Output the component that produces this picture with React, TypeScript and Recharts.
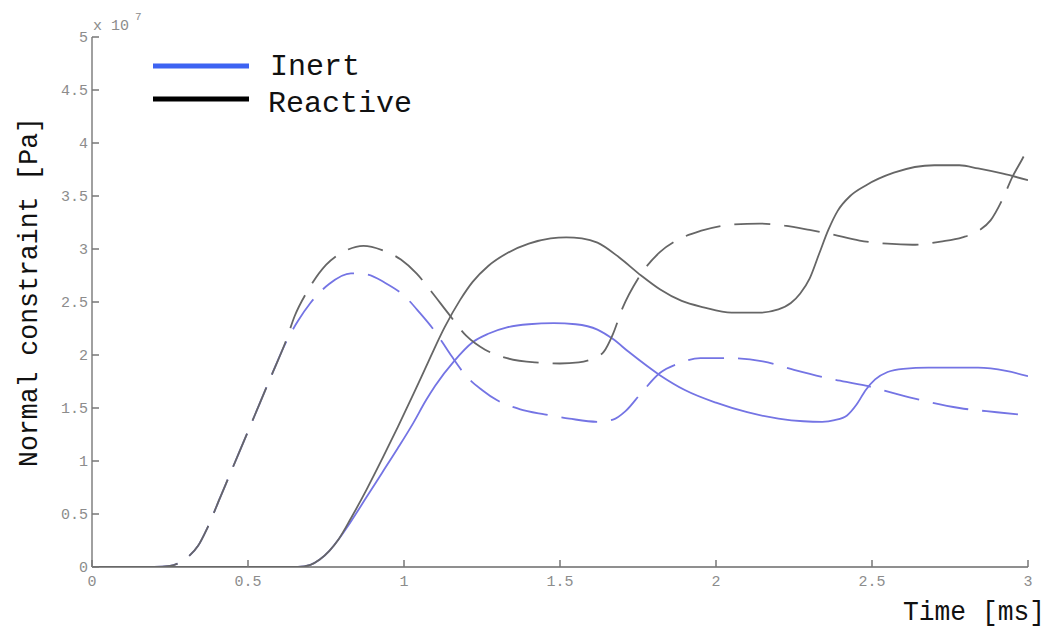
import React from 'react';
import { LineChart, Line, XAxis, YAxis, Legend } from 'recharts';

const xTicks = [0, 0.5, 1, 1.5, 2, 2.5, 3];
const yTicks = [0, 0.5, 1, 1.5, 2, 2.5, 3, 3.5, 4, 4.5, 5];

const inertDashed = [
  { t: 0, v: 0 }, { t: 0.2, v: 0 }, { t: 0.25, v: 0.01 }, { t: 0.28, v: 0.04 }, { t: 0.31, v: 0.1 },
  { t: 0.34, v: 0.2 }, { t: 0.37, v: 0.37 }, { t: 0.41, v: 0.65 }, { t: 0.45, v: 0.93 }, { t: 0.5, v: 1.28 },
  { t: 0.54, v: 1.56 }, { t: 0.58, v: 1.84 }, { t: 0.62, v: 2.11 }, { t: 0.66, v: 2.32 }, { t: 0.7, v: 2.49 },
  { t: 0.76, v: 2.67 }, { t: 0.83, v: 2.77 }, { t: 0.88, v: 2.76 }, { t: 0.94, v: 2.68 }, { t: 1.0, v: 2.56 },
  { t: 1.05, v: 2.4 }, { t: 1.1, v: 2.22 }, { t: 1.15, v: 2.0 }, { t: 1.2, v: 1.8 }, { t: 1.25, v: 1.67 },
  { t: 1.3, v: 1.57 }, { t: 1.37, v: 1.49 }, { t: 1.45, v: 1.44 }, { t: 1.53, v: 1.4 }, { t: 1.62, v: 1.37 },
  { t: 1.67, v: 1.39 }, { t: 1.71, v: 1.47 }, { t: 1.76, v: 1.64 }, { t: 1.82, v: 1.83 }, { t: 1.88, v: 1.92 },
  { t: 1.95, v: 1.97 }, { t: 2.05, v: 1.97 }, { t: 2.15, v: 1.94 }, { t: 2.25, v: 1.86 }, { t: 2.36, v: 1.78 },
  { t: 2.48, v: 1.71 }, { t: 2.62, v: 1.6 }, { t: 2.78, v: 1.5 }, { t: 2.9, v: 1.46 }, { t: 3, v: 1.43 },
];

const reactiveDashed = [
  { t: 0, v: 0 }, { t: 0.2, v: 0 }, { t: 0.25, v: 0.01 }, { t: 0.28, v: 0.04 }, { t: 0.31, v: 0.1 },
  { t: 0.34, v: 0.2 }, { t: 0.37, v: 0.37 }, { t: 0.41, v: 0.65 }, { t: 0.45, v: 0.93 }, { t: 0.5, v: 1.28 },
  { t: 0.54, v: 1.56 }, { t: 0.58, v: 1.84 }, { t: 0.62, v: 2.12 }, { t: 0.65, v: 2.37 }, { t: 0.69, v: 2.6 },
  { t: 0.75, v: 2.85 }, { t: 0.81, v: 2.98 }, { t: 0.87, v: 3.03 }, { t: 0.93, v: 2.99 }, { t: 0.99, v: 2.9 },
  { t: 1.04, v: 2.77 }, { t: 1.09, v: 2.59 }, { t: 1.14, v: 2.4 }, { t: 1.2, v: 2.18 }, { t: 1.26, v: 2.05 },
  { t: 1.33, v: 1.97 }, { t: 1.42, v: 1.93 }, { t: 1.5, v: 1.92 }, { t: 1.56, v: 1.93 }, { t: 1.6, v: 1.96 },
  { t: 1.64, v: 2.03 }, { t: 1.67, v: 2.2 }, { t: 1.7, v: 2.44 }, { t: 1.75, v: 2.72 }, { t: 1.82, v: 2.97 },
  { t: 1.88, v: 3.09 }, { t: 1.95, v: 3.17 }, { t: 2.05, v: 3.23 }, { t: 2.14, v: 3.24 }, { t: 2.22, v: 3.22 },
  { t: 2.3, v: 3.18 }, { t: 2.37, v: 3.14 }, { t: 2.46, v: 3.08 }, { t: 2.55, v: 3.05 }, { t: 2.63, v: 3.04 },
  { t: 2.72, v: 3.07 }, { t: 2.79, v: 3.11 }, { t: 2.84, v: 3.17 }, { t: 2.88, v: 3.27 }, { t: 2.92, v: 3.48 },
  { t: 2.95, v: 3.68 }, { t: 2.98, v: 3.84 }, { t: 3, v: 3.95 },
];

const inertSolid = [
  { t: 0, v: 0 }, { t: 0.66, v: 0 }, { t: 0.7, v: 0.02 }, { t: 0.73, v: 0.07 }, { t: 0.76, v: 0.15 },
  { t: 0.79, v: 0.26 }, { t: 0.83, v: 0.43 }, { t: 0.88, v: 0.66 }, { t: 0.93, v: 0.89 }, { t: 0.98, v: 1.12 },
  { t: 1.03, v: 1.36 }, { t: 1.07, v: 1.57 }, { t: 1.1, v: 1.71 }, { t: 1.16, v: 1.94 }, { t: 1.22, v: 2.12 },
  { t: 1.27, v: 2.2 }, { t: 1.33, v: 2.26 }, { t: 1.4, v: 2.29 }, { t: 1.48, v: 2.3 }, { t: 1.55, v: 2.29 },
  { t: 1.62, v: 2.24 }, { t: 1.67, v: 2.15 }, { t: 1.72, v: 2.03 }, { t: 1.82, v: 1.81 }, { t: 1.9, v: 1.67 },
  { t: 2, v: 1.55 }, { t: 2.1, v: 1.46 }, { t: 2.2, v: 1.4 }, { t: 2.28, v: 1.375 }, { t: 2.34, v: 1.37 },
  { t: 2.38, v: 1.385 }, { t: 2.42, v: 1.43 }, { t: 2.45, v: 1.53 }, { t: 2.48, v: 1.67 }, { t: 2.51, v: 1.77 },
  { t: 2.55, v: 1.84 }, { t: 2.6, v: 1.87 }, { t: 2.68, v: 1.88 }, { t: 2.84, v: 1.88 }, { t: 2.93, v: 1.85 },
  { t: 3, v: 1.8 },
];

const reactiveSolid = [
  { t: 0, v: 0 }, { t: 0.66, v: 0 }, { t: 0.7, v: 0.02 }, { t: 0.73, v: 0.07 }, { t: 0.76, v: 0.15 },
  { t: 0.79, v: 0.26 }, { t: 0.83, v: 0.46 }, { t: 0.88, v: 0.73 }, { t: 0.93, v: 1.02 }, { t: 0.98, v: 1.32 },
  { t: 1.03, v: 1.63 }, { t: 1.08, v: 1.95 }, { t: 1.13, v: 2.26 }, { t: 1.18, v: 2.52 }, { t: 1.22, v: 2.69 },
  { t: 1.27, v: 2.84 }, { t: 1.33, v: 2.96 }, { t: 1.4, v: 3.05 }, { t: 1.47, v: 3.1 }, { t: 1.52, v: 3.11 },
  { t: 1.57, v: 3.1 }, { t: 1.62, v: 3.06 }, { t: 1.69, v: 2.92 }, { t: 1.76, v: 2.75 }, { t: 1.82, v: 2.62 },
  { t: 1.89, v: 2.51 }, { t: 1.96, v: 2.45 }, { t: 2.05, v: 2.4 }, { t: 2.14, v: 2.4 }, { t: 2.2, v: 2.43 },
  { t: 2.24, v: 2.49 }, { t: 2.27, v: 2.58 }, { t: 2.3, v: 2.72 }, { t: 2.33, v: 2.95 }, { t: 2.36, v: 3.18 },
  { t: 2.39, v: 3.36 }, { t: 2.43, v: 3.5 }, { t: 2.48, v: 3.6 }, { t: 2.57, v: 3.72 }, { t: 2.7, v: 3.79 },
  { t: 2.78, v: 3.79 }, { t: 2.84, v: 3.76 }, { t: 2.92, v: 3.71 }, { t: 3, v: 3.65 },
];

const legendItems = [
  { name: 'Inert', color: '#3d63f2' },
  { name: 'Reactive', color: '#000000' },
];

const MONO = '"Liberation Mono", "DejaVu Sans Mono", monospace';
const BLUE = '#7474e4';
const GRAY = '#666666';
const DASH = '36 14';
const SW = 1.8;

const YTick = (props: any) => {
  const { x, y, payload } = props;
  return (
    <g>
      <line x1={x} y1={y} x2={x + 7} y2={y} stroke="#777" strokeWidth={1.5} />
      <text x={x - 4} y={y + 5} textAnchor="end" fontFamily={MONO} fontSize={15} fill="#8c8c8c">
        {String(payload.value)}
      </text>
    </g>
  );
};

const XTick = (props: any) => {
  const { x, y, payload } = props;
  return (
    <g>
      <line x1={x} y1={y} x2={x} y2={y - 7} stroke="#777" strokeWidth={1.5} />
      <text x={x} y={y + 19} textAnchor="middle" fontFamily={MONO} fontSize={15} fill="#8c8c8c">
        {String(payload.value)}
      </text>
    </g>
  );
};

const LegendContent = () => (
  <svg width={300} height={85} style={{ display: 'block' }}>
    {legendItems.map((it, i) => (
      <g key={it.name}>
        <line x1={13} x2={109} y1={26 + i * 33} y2={26 + i * 33} stroke={it.color} strokeWidth={5} />
        <text x={130 - i * 2} y={35 + i * 37} fontFamily={MONO} fontSize={30} fill="#111">
          {it.name}
        </text>
      </g>
    ))}
  </svg>
);

export default function App() {
  return (
    <div style={{ position: 'relative', width: 1045, height: 620, background: '#fff' }}>
      <LineChart width={1045} height={620} margin={{ top: 29, right: 25, bottom: 21, left: 0 }}>
        <XAxis
          type="number"
          dataKey="t"
          domain={[0, 3]}
          ticks={xTicks}
          height={40}
          tickSize={0}
          tickMargin={0}
          tickLine={false}
          tick={<XTick />}
          axisLine={{ stroke: '#6a6a6a', strokeWidth: 1.5 }}
          allowDataOverflow
        />
        <YAxis
          type="number"
          domain={[0, 5]}
          ticks={yTicks}
          width={84}
          tickSize={0}
          tickMargin={0}
          tickLine={false}
          tick={<YTick />}
          axisLine={{ stroke: '#808080', strokeWidth: 1.5 }}
          allowDataOverflow
        />
        <Legend
          layout="horizontal"
          verticalAlign="middle"
          align="center"
          content={<LegendContent />}
          wrapperStyle={{ left: 132, top: 32, width: 300, height: 85 }}
        />
        <Line data={inertDashed} dataKey="v" type="monotone" stroke={BLUE} strokeWidth={SW} strokeDasharray={DASH} dot={false} isAnimationActive={false} />
        <Line data={inertSolid} dataKey="v" type="monotone" stroke={BLUE} strokeWidth={SW} dot={false} isAnimationActive={false} />
        <Line data={reactiveDashed} dataKey="v" type="monotone" stroke={GRAY} strokeWidth={SW} strokeDasharray={DASH} dot={false} isAnimationActive={false} />
        <Line data={reactiveSolid} dataKey="v" type="monotone" stroke={GRAY} strokeWidth={SW} dot={false} isAnimationActive={false} />
      </LineChart>
      <svg width={1045} height={620} style={{ position: 'absolute', left: 0, top: 0, pointerEvents: 'none' }}>
        <text x={85} y={22} fontFamily={MONO} fontSize={15} fill="#8c8c8c">x 10</text>
        <text x={127} y={12} fontFamily={MONO} fontSize={11} fill="#8c8c8c">7</text>
        <text
          x={29}
          y={284}
          transform="rotate(-90 29 284)"
          textAnchor="middle"
          fontFamily={MONO}
          fontSize={27}
          fill="#111"
          textLength={350}
          lengthAdjust="spacingAndGlyphs"
        >
          Normal constraint [Pa]
        </text>
        <text x={895} y={612} fontFamily={MONO} fontSize={27} fill="#111" textLength={142} lengthAdjust="spacingAndGlyphs">
          Time [ms]
        </text>
      </svg>
    </div>
  );
}
